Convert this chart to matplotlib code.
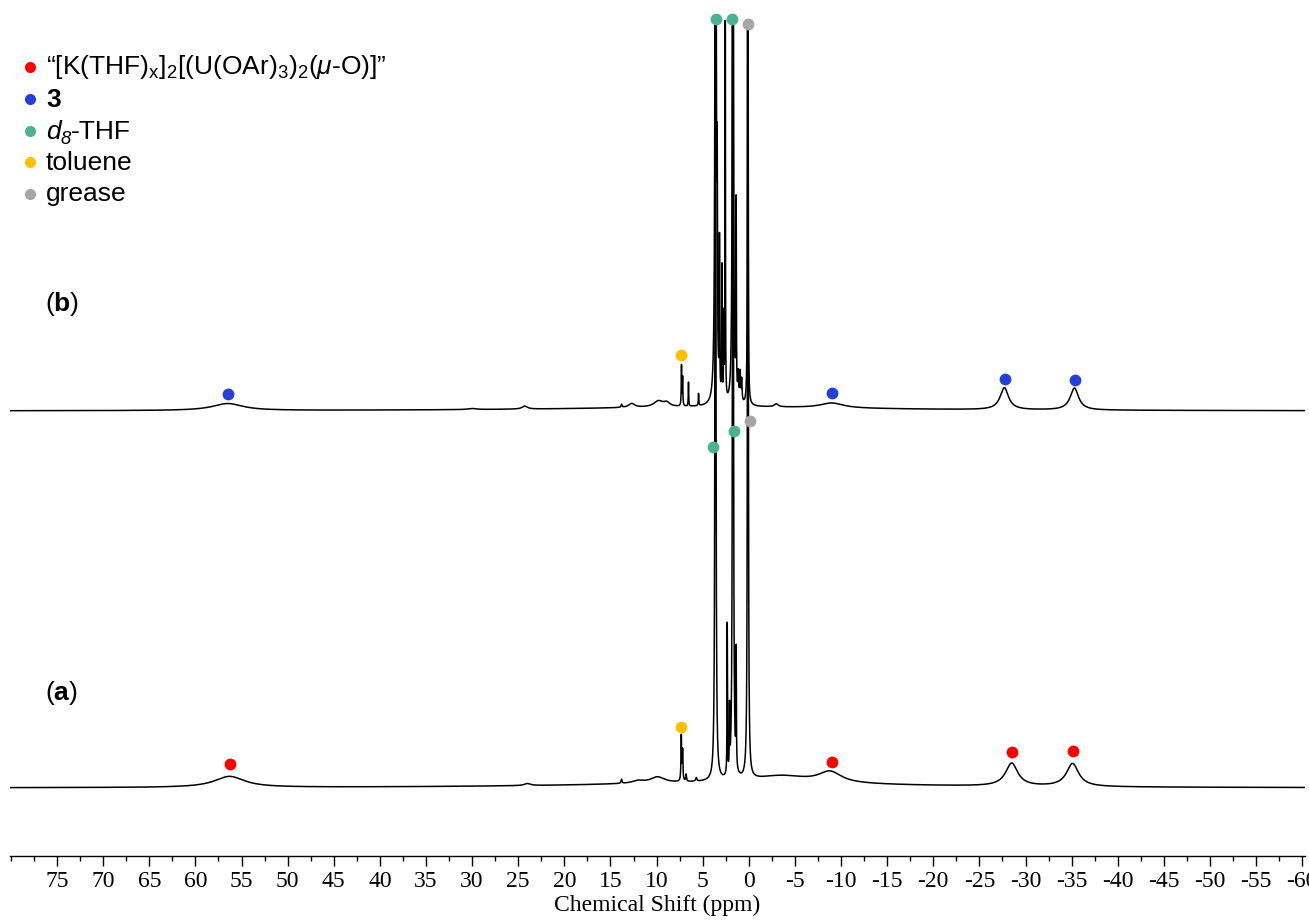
import numpy as np
import matplotlib
matplotlib.use("Agg")
import matplotlib.pyplot as plt
from matplotlib.ticker import MultipleLocator

plt.rcParams['mathtext.fontset'] = 'custom'
plt.rcParams['mathtext.rm'] = 'Liberation Sans'
plt.rcParams['mathtext.it'] = 'Liberation Sans:italic'
plt.rcParams['mathtext.bf'] = 'Liberation Sans:bold'

# ---------------- data ----------------
# spectrum (a): peak centre (ppm), height (a.u.), FWHM (ppm)
a_centers = [56.3, 24.0, 13.8, 12.0, 9.9, 7.32, 7.18, 6.8, 5.7, 3.62, 2.34, 2.09,
             1.72, 1.37, 0.10, -3.5, -8.8, -28.5, -35.1, 2.0]
a_heights = [11, 2, 4, 2.5, 6, 45, 30, 7, 3.5, 1500, 150, 60,
             1500, 115, 1500, 7, 11, 23, 23, 5]
a_widths = [4.0, 0.8, 0.12, 1.5, 1.8, 0.08, 0.08, 0.1, 0.15, 0.08, 0.05, 0.05,
            0.08, 0.05, 0.07, 7.0, 3.0, 1.6, 1.6, 40.0]
a_offset = 68

# spectrum (b)
b_centers = [56.5, 30.0, 24.3, 13.8, 12.7, 9.8, 8.9, 7.30, 7.18, 6.54, 5.45, 3.60,
             3.43, 3.18, 2.92, 2.72, 2.56, 1.73, 1.37, 1.15, 0.95, 0.78, 0.11,
             -2.97, -9.0, -27.7, -35.3, 3.0]
b_heights = [7, 1, 3, 3, 4, 6, 4, 40, 28, 24, 12, 1000,
             170, 150, 130, 80, 1000, 1000, 190, 25, 28, 22, 1000,
             3, 5, 22, 22, 4]
b_widths = [4.0, 1.0, 0.7, 0.12, 0.8, 1.2, 0.8, 0.06, 0.06, 0.05, 0.06, 0.12,
            0.05, 0.05, 0.05, 0.05, 0.03, 0.1, 0.05, 0.1, 0.1, 0.1, 0.05,
            0.5, 3.0, 1.1, 1.1, 40.0]
b_offset = 445

# assignment markers: (ppm, height)
red_x = [56.3, -9.0, -28.5, -35.1]
red_y = [92, 94, 104, 105]
blue_x = [56.5, -9.0, -27.8, -35.4]
blue_y = [462, 463, 477, 476]
teal_x = [3.6, 1.8, 3.83, 1.66]
teal_y = [837, 837, 409, 425]
orange_x = [7.3, 7.3]
orange_y = [501, 129]
grey_x = [0.05, -0.08]
grey_y = [832, 435]

legend_labels = ['“[K(THF)$_{\\mathrm{x}}$]$_2$[(U(OAr)$_3$)$_2$($\\mathit{\\mu}$-O)]”',
                 '$\\mathbf{3}$',
                 None,  # d8-THF, composed below
                 'toluene',
                 'grease']
legend_colors = ['#FF0000', '#2440D8', '#4BB394', '#FFC000', '#A6A6A6']

# ---------------- build ----------------
ppm = np.linspace(80.1, -60.3, 40001)


def lorentz_sum(centers, heights, widths):
    y = np.zeros_like(ppm)
    for c, h, w in zip(centers, heights, widths):
        g = w / 2.0
        y += h * g * g / ((ppm - c) ** 2 + g * g)
    return y


spec_a = lorentz_sum(a_centers, a_heights, a_widths) + a_offset
spec_b = lorentz_sum(b_centers, b_heights, b_widths) + b_offset

W, H = 1309, 921
fig = plt.figure(figsize=(W / 100, H / 100), dpi=100)
ax = fig.add_axes([10 / W, 65 / H, 1295 / W, 836 / H])
ax.set_xlim(80.1, -60.3)
ax.set_ylim(0, 836)

ax.plot(ppm, spec_a, color='black', lw=1.1)
ax.plot(ppm, spec_b, color='black', lw=1.1)

ms = 8.5
for xs, ys, col in [(red_x, red_y, legend_colors[0]), (blue_x, blue_y, legend_colors[1]),
                    (teal_x, teal_y, legend_colors[2]), (orange_x, orange_y, legend_colors[3]),
                    (grey_x, grey_y, legend_colors[4])]:
    ax.plot(xs, ys, 'o', color=col, ms=ms, mec='none', clip_on=False, zorder=5)

for s in ['top', 'right', 'left']:
    ax.spines[s].set_visible(False)
ax.spines['bottom'].set_linewidth(1.0)
ax.set_yticks([])
ax.xaxis.set_major_locator(MultipleLocator(5))
ax.xaxis.set_minor_locator(MultipleLocator(2.5))
ax.tick_params(axis='x', which='major', length=7, width=1.0, direction='out',
               labelsize=17, pad=4)
ax.tick_params(axis='x', which='minor', length=3.5, width=1.0, direction='out')
ticks = np.arange(75, -61, -5)
ax.set_xticks(ticks)
ax.set_xticklabels([str(int(t)) for t in ticks], fontfamily='Liberation Serif')
ax.set_xlabel('Chemical Shift (ppm)', fontfamily='Liberation Serif', fontsize=17,
              labelpad=2)

# legend (manual)
fs = 19
dot_y = [66.7, 99.5, 131, 162, 194]
renderer = fig.canvas.get_renderer()
for lab, col, yy in zip(legend_labels, legend_colors, dot_y):
    fig.lines.append(plt.Line2D([30 / W], [1 - yy / H], marker='o', color=col, ms=8,
                                mec='none', transform=fig.transFigure))
    base = 1 - (yy + 7.5) / H
    if lab is not None:
        fig.text(46 / W, base, lab, fontfamily='Liberation Sans',
                 fontsize=fs, va='baseline', ha='left')
    else:
        t1 = fig.text(46 / W, base, 'd', fontfamily='Liberation Sans', fontstyle='italic',
                      fontsize=fs, va='baseline', ha='left')
        x1 = t1.get_window_extent(renderer).x1
        t2 = fig.text(x1 / W, base - 5 / H, '8', fontfamily='Liberation Sans',
                      fontstyle='italic', fontsize=fs * 0.7, va='baseline', ha='left')
        x2 = t2.get_window_extent(renderer).x1
        fig.text(x2 / W, base, '-THF', fontfamily='Liberation Sans',
                 fontsize=fs, va='baseline', ha='left')

fig.text(45 / W, 1 - 311 / H, '($\\mathbf{b}$)', fontfamily='Liberation Sans',
         fontsize=fs, va='baseline', ha='left')
fig.text(45 / W, 1 - 700 / H, '($\\mathbf{a}$)', fontfamily='Liberation Sans',
         fontsize=fs, va='baseline', ha='left')

fig.savefig('out.png', dpi=100)
